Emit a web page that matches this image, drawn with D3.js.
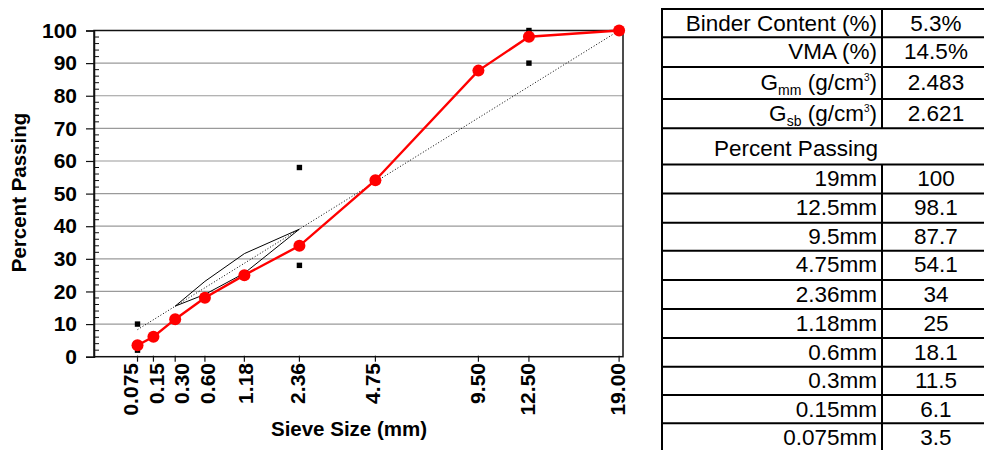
<!DOCTYPE html>
<html>
<head>
<meta charset="utf-8">
<script src="https://cdn.jsdelivr.net/npm/d3@7/dist/d3.min.js"></script>
<style>
  html, body { margin: 0; padding: 0; background: #fff; }
  svg { display: block; }
  text { font-family: "Liberation Sans", Arial, sans-serif; }
</style>
</head>
<body>
<svg id="chart" width="984" height="450"></svg>
<script>
// ---------------- DATA ----------------
const sieves = [0.075, 0.15, 0.30, 0.60, 1.18, 2.36, 4.75, 9.50, 12.50, 19.00];
const sieveLabels = ["0.075", "0.15", "0.30", "0.60", "1.18", "2.36", "4.75", "9.50", "12.50", "19.00"];
const percentPassing = [3.5, 6.1, 11.5, 18.1, 25, 34, 54.1, 87.7, 98.1, 100];

const controlSieves = [0.075, 0.075, 2.36, 2.36, 12.5, 12.5, 19];
const controlValues = [2, 10, 28, 58, 90, 100, 100];

const maxDensitySieves = [0.075, 19];
const maxDensityValues = [8.3, 100];

const rzSieves = [0.30, 0.60, 1.18, 2.36];
const rzUpper = [15.5, 23.1, 31.6, 39.1];
const rzLower = [15.5, 19.1, 25.6, 39.1];

const yTicks = [0, 10, 20, 30, 40, 50, 60, 70, 80, 90, 100];

const propLabels = [
  [{t: "Binder Content (%)"}],
  [{t: "VMA (%)"}],
  [{t: "G"}, {t: "mm", sub: true}, {t: " (g/cm"}, {t: "3", sup: true}, {t: ")"}],
  [{t: "G"}, {t: "sb", sub: true}, {t: " (g/cm"}, {t: "3", sup: true}, {t: ")"}]
];
const propValues = ["5.3%", "14.5%", "2.483", "2.621"];
const passHeader = "Percent Passing";
const passSieveLabels = ["19mm", "12.5mm", "9.5mm", "4.75mm", "2.36mm", "1.18mm", "0.6mm", "0.3mm", "0.15mm", "0.075mm"];
const passValues = ["100", "98.1", "87.7", "54.1", "34", "25", "18.1", "11.5", "6.1", "3.5"];

// ---------------- LAYOUT ----------------
const svg = d3.select("#chart");
const pw = s => Math.pow(s, 0.45);
const x = d3.scaleLinear().domain([0, 3.79]).range([94, 623]);
const y = d3.scaleLinear().domain([0, 100]).range([356.7, 30.5]);
const labelNudge = [-7.5, 3, 6.5, 2.5, 1.5, -1.5, -3, -0.5, -1.5, -1.5];

const plot = svg.append("g");

// gridlines
plot.append("g").selectAll("line")
  .data(yTicks.filter(v => v > 0 && v < 100))
  .join("line")
  .attr("x1", x(0)).attr("x2", x.range()[1])
  .attr("y1", d => y(d)).attr("y2", d => y(d))
  .attr("stroke", "#9a9a9a").attr("stroke-width", 1.2);

// plot border
plot.append("rect")
  .attr("x", x(0)).attr("y", y(100))
  .attr("width", x.range()[1] - x(0)).attr("height", y(0) - y(100))
  .attr("fill", "none").attr("stroke", "#111").attr("stroke-width", 1.5);

// y axis ticks
const yAxis = d3.axisLeft(y).tickValues(yTicks).tickSize(8).tickPadding(9).tickFormat(d3.format("d"));
const yg = plot.append("g").attr("transform", `translate(${x(0)},0)`).call(yAxis);
yg.select(".domain").attr("stroke", "#111").attr("stroke-width", 1.5);
yg.selectAll(".tick line").attr("stroke", "#111").attr("stroke-width", 1.2);
yg.selectAll(".tick text")
  .attr("font-size", 21).attr("font-weight", "bold").attr("fill", "#000");

// minor y ticks (inside)
plot.append("g").selectAll("line")
  .data(d3.range(0, 101, 2).filter(v => v % 10 !== 0))
  .join("line")
  .attr("x1", x(0)).attr("x2", x(0) + 5)
  .attr("y1", d => y(d)).attr("y2", d => y(d))
  .attr("stroke", "#111").attr("stroke-width", 1);

// x ticks
plot.append("g").selectAll("line")
  .data(sieves)
  .join("line")
  .attr("x1", d => x(pw(d))).attr("x2", d => x(pw(d)))
  .attr("y1", y(0) - 1).attr("y2", y(0) + 5)
  .attr("stroke", "#111").attr("stroke-width", 1.2);

// x tick labels (rotated)
plot.append("g").selectAll("text")
  .data(sieves)
  .join("text")
  .attr("transform", (d, i) => `translate(${x(pw(d)) + labelNudge[i] + 7.5},363) rotate(-90)`)
  .attr("text-anchor", "end")
  .attr("font-size", 21).attr("font-weight", "bold").attr("fill", "#000")
  .text((d, i) => sieveLabels[i]);

// axis titles
svg.append("text")
  .attr("transform", "translate(26,192.5) rotate(-90)")
  .attr("text-anchor", "middle")
  .attr("font-size", 20.5).attr("font-weight", "bold")
  .text("Percent Passing");
svg.append("text")
  .attr("x", 349).attr("y", 436)
  .attr("text-anchor", "middle")
  .attr("font-size", 20.5).attr("font-weight", "bold")
  .text("Sieve Size (mm)");

// restricted zone
const rzPts = rzSieves.map((s, i) => [x(pw(s)), y(rzUpper[i])])
  .concat(rzSieves.map((s, i) => [x(pw(s)), y(rzLower[i])]).reverse());
plot.append("path")
  .attr("d", d3.line()(rzPts) + "Z")
  .attr("fill", "none").attr("stroke", "#000").attr("stroke-width", 1);

// max density line
plot.append("path")
  .attr("d", d3.line()(maxDensitySieves.map((s, i) => [x(pw(s)), y(maxDensityValues[i])])))
  .attr("fill", "none").attr("stroke", "#000").attr("stroke-width", 1)
  .attr("stroke-dasharray", "1,2");

// control points
plot.append("g").selectAll("rect")
  .data(controlSieves)
  .join("rect")
  .attr("x", d => x(pw(d)) - 2.7)
  .attr("y", (d, i) => y(controlValues[i]) - 2.7)
  .attr("width", 5.4).attr("height", 5.4)
  .attr("fill", "#000");

// gradation line
plot.append("path")
  .attr("d", d3.line()(sieves.map((s, i) => [x(pw(s)), y(percentPassing[i])])))
  .attr("fill", "none").attr("stroke", "#ff0000").attr("stroke-width", 2.4);
plot.append("g").selectAll("circle")
  .data(sieves)
  .join("circle")
  .attr("cx", d => x(pw(d)))
  .attr("cy", (d, i) => y(percentPassing[i]))
  .attr("r", 6)
  .attr("fill", "#ff0000");

// ---------------- TABLE ----------------
const rowEdges = [9, 37.3, 67, 99, 128.3, 164.5, 193.5, 222.7, 250.7, 280, 309, 338, 366.7, 395, 423.3, 452];
const tLeft = 662, tMid = 882, tRight = 990;
const fs = 22.5;
const tbl = svg.append("g");

const rows = [];
propLabels.forEach((parts, i) => rows.push({type: "kv", parts, val: propValues[i]}));
rows.push({type: "header", text: passHeader});
passSieveLabels.forEach((l, i) => rows.push({type: "kv", parts: [{t: l}], val: passValues[i]}));

rows.forEach((r, i) => {
  const top = rowEdges[i], bot = rowEdges[i + 1];
  const base = top + 21.7 + (i === 2 ? 1 : 0);
  if (r.type === "header") {
    tbl.append("text").attr("x", 796).attr("y", base + 6)
      .attr("text-anchor", "middle").attr("font-size", fs).text(r.text);
  } else {
    const t = tbl.append("text").attr("x", tMid - 5).attr("y", base)
      .attr("text-anchor", "end").attr("font-size", fs);
    let cur = 0;
    r.parts.forEach(p => {
      const target = p.sub ? 5 : (p.sup ? -9 : 0);
      t.append("tspan").text(p.t)
        .attr("font-size", p.sub ? 14 : (p.sup ? 10 : fs))
        .attr("dy", target - cur);
      cur = target;
    });
    tbl.append("text").attr("x", 936).attr("y", base)
      .attr("text-anchor", "middle").attr("font-size", fs).text(r.val);
    // middle divider
    tbl.append("line").attr("x1", tMid).attr("x2", tMid).attr("y1", top).attr("y2", bot)
      .attr("stroke", "#000").attr("stroke-width", 2);
  }
});

// horizontal lines
tbl.append("g").selectAll("line")
  .data(rowEdges)
  .join("line")
  .attr("x1", tLeft).attr("x2", tRight)
  .attr("y1", d => d).attr("y2", d => d)
  .attr("stroke", "#000").attr("stroke-width", 2);
// outer verticals
tbl.append("line").attr("x1", tLeft).attr("x2", tLeft)
  .attr("y1", rowEdges[0] - 1).attr("y2", rowEdges[rowEdges.length - 1])
  .attr("stroke", "#000").attr("stroke-width", 2);
</script>
</body>
</html>
